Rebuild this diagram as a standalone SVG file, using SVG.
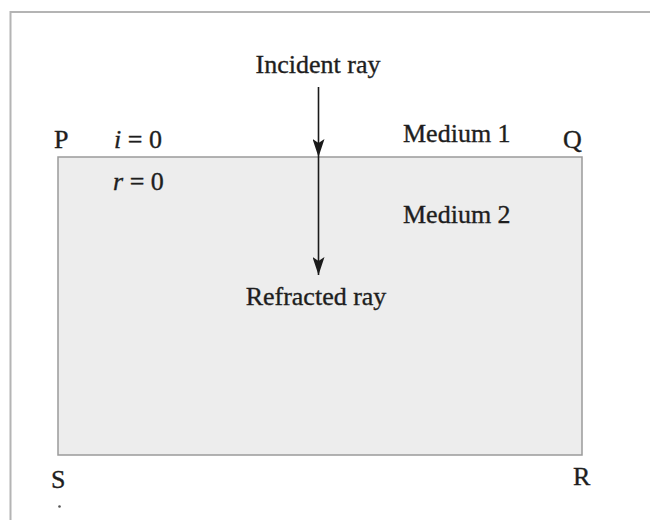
<svg xmlns="http://www.w3.org/2000/svg" width="650" height="520" viewBox="0 0 650 520">
<defs>
<style>
.t{font-family:"Liberation Serif","Times New Roman",serif;font-size:26px;fill:#1e1e1e;stroke:#1e1e1e;stroke-width:0.35}
.it{font-style:italic}
.ray{stroke:#1a1a1a;stroke-width:1.6;fill:none}
</style>
<marker id="ah" viewBox="0 0 18 12" refX="18" refY="6" markerWidth="18" markerHeight="12" markerUnits="userSpaceOnUse" orient="auto">
<path d="M0,0 L4,6 L0,12 L18,6 Z" fill="#1a1a1a"/>
</marker>
</defs>
<rect width="650" height="520" fill="#ffffff"/>
<path d="M10.5,520 V12 H650" fill="none" stroke="#b4b4b4" stroke-width="2"/>
<g id="block">
<rect x="58" y="157" width="524" height="298" fill="#ededed" stroke="#9a9a9a" stroke-width="1.5"/>
</g>
<g id="connectors">
<line class="ray" x1="318.5" y1="87" x2="318.5" y2="157" marker-end="url(#ah)"/>
<line class="ray" x1="318.5" y1="157" x2="318.5" y2="275" marker-end="url(#ah)"/>
</g>
<g id="labels">
<text class="t" x="318" y="73" text-anchor="middle">Incident ray</text>
<text class="t" x="316" y="305" text-anchor="middle">Refracted ray</text>
<text class="t" x="403" y="142">Medium 1</text>
<text class="t" x="403" y="223">Medium 2</text>
<text class="t" x="54" y="148">P</text>
<text class="t" x="563" y="148">Q</text>
<text class="t" x="51" y="488">S</text>
<text class="t" x="573" y="485">R</text>
<text class="t" x="114" y="148"><tspan class="it">i</tspan> = 0</text>
<text class="t" x="113" y="190"><tspan class="it">r</tspan> = 0</text>
<circle cx="59.5" cy="506.5" r="1.3" fill="#555"/>
</g>
</svg>
